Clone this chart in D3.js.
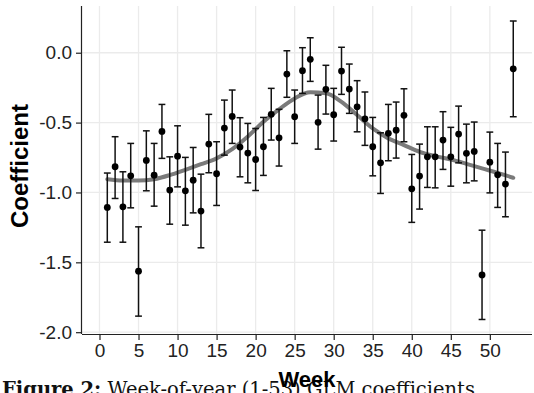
<!DOCTYPE html>
<html>
<head>
<meta charset="utf-8">
<script src="https://cdn.jsdelivr.net/npm/d3@7"></script>
<style>
  html, body { margin: 0; padding: 0; background: #fff; overflow: hidden; }
  svg { display: block; }
</style>
</head>
<body>
<svg id="chart" width="534" height="393"></svg>
<script>
const weeks = [1,2,3,4,5,6,7,8,9,10,11,12,13,14,15,16,17,18,19,20,21,22,23,24,25,26,27,28,29,30,31,32,33,34,35,36,37,38,39,40,41,42,43,44,45,46,47,48,49,50,51,52,53];
const estimate = [-1.107,-0.816,-1.103,-0.881,-1.563,-0.771,-0.876,-0.563,-0.983,-0.740,-0.988,-0.912,-1.133,-0.654,-0.866,-0.539,-0.456,-0.675,-0.718,-0.764,-0.673,-0.441,-0.609,-0.153,-0.458,-0.129,-0.047,-0.498,-0.262,-0.444,-0.131,-0.260,-0.387,-0.473,-0.673,-0.788,-0.577,-0.554,-0.448,-0.974,-0.883,-0.745,-0.745,-0.625,-0.745,-0.582,-0.720,-0.706,-1.590,-0.783,-0.874,-0.940,-0.115];
const upper = [-0.861,-0.601,-0.852,-0.649,-1.246,-0.559,-0.649,-0.370,-0.745,-0.523,-0.749,-0.678,-0.869,-0.441,-0.637,-0.339,-0.267,-0.465,-0.506,-0.542,-0.463,-0.255,-0.405,0.014,-0.267,0.036,0.107,-0.303,-0.090,-0.255,0.039,-0.081,-0.200,-0.281,-0.463,-0.573,-0.370,-0.353,-0.258,-0.728,-0.654,-0.530,-0.530,-0.422,-0.534,-0.382,-0.511,-0.496,-1.270,-0.568,-0.649,-0.711,0.227];
const lower = [-1.356,-1.043,-1.356,-1.110,-1.885,-0.988,-1.098,-0.756,-1.227,-0.960,-1.234,-1.146,-1.396,-0.859,-1.093,-0.733,-0.649,-0.888,-0.931,-0.986,-0.878,-0.625,-0.811,-0.319,-0.649,-0.291,-0.205,-0.690,-0.439,-0.632,-0.298,-0.434,-0.566,-0.663,-0.881,-1.007,-0.773,-0.754,-0.637,-1.214,-1.119,-0.964,-0.967,-0.835,-0.955,-0.788,-0.931,-0.917,-1.909,-1.003,-1.107,-1.174,-0.458];
const smoothWeeks = [1,3,5,7,9,11,13,15,17,19,21,23,25,27,29,31,33,35,37,39,41,43,45,47,49,51,53];
const smoothValues = [-0.905,-0.915,-0.915,-0.905,-0.876,-0.838,-0.798,-0.756,-0.690,-0.600,-0.494,-0.405,-0.327,-0.283,-0.290,-0.352,-0.446,-0.542,-0.613,-0.661,-0.709,-0.740,-0.764,-0.795,-0.828,-0.860,-0.895];
const xTicks = [0,5,10,15,20,25,30,35,40,45,50];
const yTicks = [0.0,-0.5,-1.0,-1.5,-2.0];

(function () {
const svg = d3.select("#chart");
const pl = 82, pr = 532, pt = 6, pb = 334;
const x = d3.scaleLinear().domain([-2.24, 55.4]).range([pl, pr]);
const y = d3.scaleLinear().domain([-2.0129, 0.3344]).range([pb, pt]);

const font = "'Liberation Sans', Arial, Helvetica, sans-serif";

// grid
const grid = svg.append("g");
grid.selectAll("line.gx").data(xTicks).enter().append("line")
  .attr("x1", d => x(d)).attr("x2", d => x(d)).attr("y1", pt).attr("y2", pb)
  .attr("stroke", "#ebebeb").attr("stroke-width", 1.3);
grid.selectAll("line.gy").data(yTicks).enter().append("line")
  .attr("x1", pl).attr("x2", pr).attr("y1", d => y(d)).attr("y2", d => y(d))
  .attr("stroke", "#ebebeb").attr("stroke-width", 1.3);

// smooth line
const line = d3.line().x(d => x(d[0])).y(d => y(d[1])).curve(d3.curveMonotoneX);
svg.append("path")
  .datum(smoothWeeks.map((w, i) => [w, smoothValues[i]]))
  .attr("d", line).attr("fill", "none")
  .attr("stroke", "#7a7a7a").attr("stroke-width", 4).attr("stroke-linecap", "round");

// error bars
const data = weeks.map((w, i) => ({w, e: estimate[i], lo: lower[i], hi: upper[i]}));
const eb = svg.append("g").attr("stroke", "#111").attr("stroke-width", 1.5);
eb.selectAll("line.v").data(data).enter().append("line")
  .attr("x1", d => x(d.w)).attr("x2", d => x(d.w)).attr("y1", d => y(d.lo)).attr("y2", d => y(d.hi));
const cap = 3.4;
eb.selectAll("line.t").data(data).enter().append("line")
  .attr("x1", d => x(d.w) - cap).attr("x2", d => x(d.w) + cap).attr("y1", d => y(d.hi)).attr("y2", d => y(d.hi));
eb.selectAll("line.b").data(data).enter().append("line")
  .attr("x1", d => x(d.w) - cap).attr("x2", d => x(d.w) + cap).attr("y1", d => y(d.lo)).attr("y2", d => y(d.lo));

svg.append("g").selectAll("circle").data(data).enter().append("circle")
  .attr("cx", d => x(d.w)).attr("cy", d => y(d.e)).attr("r", 3.4).attr("fill", "#000");

// axes
const xAxis = svg.append("g").attr("transform", `translate(0,${pb})`)
  .call(d3.axisBottom(x).tickValues(xTicks).tickSize(6).tickPadding(4).tickFormat(d3.format("d")));
const yAxis = svg.append("g").attr("transform", `translate(${pl},0)`)
  .call(d3.axisLeft(y).tickValues(yTicks).tickSize(6).tickPadding(4).tickFormat(d => d3.format(".1f")(d).replace("−", "-")));
[xAxis, yAxis].forEach(a => {
  a.select(".domain").attr("stroke", "#222").attr("stroke-width", 1.2);
  a.selectAll(".tick line").attr("stroke", "#222").attr("stroke-width", 1.2);
  a.selectAll("text").attr("font-family", font).attr("font-size", 19).attr("fill", "#222");
});
xAxis.select(".domain").attr("d", `M${pl},0.5H${pr}`);
yAxis.select(".domain").attr("d", `M-0.5,${pt}V${pb}`);

// caption (behind title)
const cap2 = svg.append("text").attr("x", 2).attr("y", 396)
  .attr("font-family", "'DejaVu Serif', serif").attr("font-size", 19.5).attr("fill", "#111");
cap2.append("tspan").attr("font-weight", "bold").text("Figure 2:");
cap2.append("tspan").text(" Week-of-year (1-53) GLM coefficients");

// titles
svg.append("text").attr("x", (pl + pr) / 2).attr("y", 387)
  .attr("text-anchor", "middle").attr("font-family", font).attr("font-weight", "bold")
  .attr("font-size", 22).attr("fill", "#000").text("Week");
svg.append("text").attr("transform", `translate(28,166) rotate(-90)`)
  .attr("text-anchor", "middle").attr("font-family", font).attr("font-weight", "bold")
  .attr("font-size", 24).attr("fill", "#000").text("Coefficient");
})();
</script>
</body>
</html>
